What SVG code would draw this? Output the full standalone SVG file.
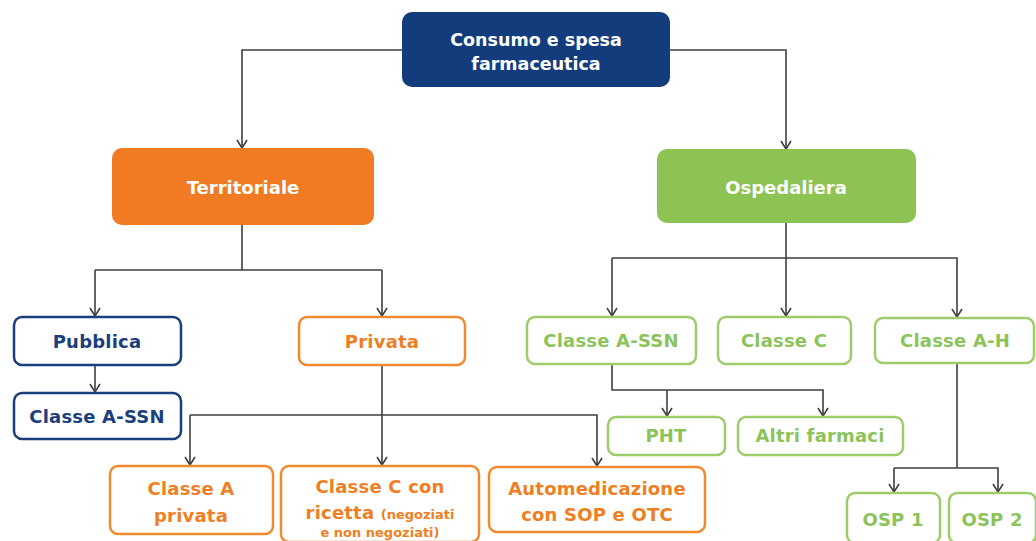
<svg xmlns="http://www.w3.org/2000/svg" width="1036" height="541" viewBox="0 0 1036 541">
<style>
.lbl{font-family:"DejaVu Sans",Verdana,sans-serif;font-weight:bold;font-size:18px;text-anchor:middle;letter-spacing:0.2px}
.sm{font-size:13px;letter-spacing:0}
.top{font-family:"DejaVu Sans",Verdana,sans-serif;font-weight:bold;font-size:17.5px;text-anchor:middle;fill:#fff}
.navyB{fill:#fff;stroke:#1b3f7c;stroke-width:2.5}
.orB{fill:#fff;stroke:#f08a2e;stroke-width:2.5}
.grB{fill:#fff;stroke:#9ccd6a;stroke-width:2.5}
.tn{fill:#1b3f7c}.to{fill:#ef7f22}.tg{fill:#8cc35a}
.c{fill:none;stroke:#3f3f3f;stroke-width:1.6}
</style>
<defs>
<marker id="ar" markerWidth="12" markerHeight="12" refX="10" refY="6" orient="auto" markerUnits="userSpaceOnUse" viewBox="0 0 12 12">
<path d="M2,1 L10,6 L2,11" fill="none" stroke="#3f3f3f" stroke-width="1.6"/>
</marker>
</defs>
<rect width="1036" height="541" fill="#fff"/>
<g id="connectors">
<path class="c" d="M402,50 H242 V148" marker-end="url(#ar)"/>
<path class="c" d="M670,50 H786 V149" marker-end="url(#ar)"/>
<path class="c" d="M242,225 V270"/>
<path class="c" d="M95,270 H382"/>
<path class="c" d="M95,270 V316" marker-end="url(#ar)"/>
<path class="c" d="M382,270 V316" marker-end="url(#ar)"/>
<path class="c" d="M95,365 V392" marker-end="url(#ar)"/>
<path class="c" d="M382,365 V465" marker-end="url(#ar)"/>
<path class="c" d="M190,415 H597 V466" marker-end="url(#ar)"/>
<path class="c" d="M190,415 V465" marker-end="url(#ar)"/>
<path class="c" d="M786,223 V316" marker-end="url(#ar)"/>
<path class="c" d="M612,258 H957 V317" marker-end="url(#ar)"/>
<path class="c" d="M612,258 V316" marker-end="url(#ar)"/>
<path class="c" d="M612,364 V390 H823 V416" marker-end="url(#ar)"/>
<path class="c" d="M667,390 V416" marker-end="url(#ar)"/>
<path class="c" d="M957,364 V468"/>
<path class="c" d="M894,468 H998 V492" marker-end="url(#ar)"/>
<path class="c" d="M894,468 V492" marker-end="url(#ar)"/>
</g>
<g id="n-root">
<rect x="402" y="12" width="268" height="75" rx="10" fill="#123c7c"/>
<text class="top" x="536" y="46">Consumo e spesa</text>
<text class="top" x="536" y="70">farmaceutica</text>
</g>
<g id="n-territoriale">
<rect x="112" y="148" width="262" height="77" rx="10" fill="#f07b22"/>
<text class="top" x="243" y="194" style="font-size:18px">Territoriale</text>
</g>
<g id="n-ospedaliera">
<rect x="657" y="149" width="259" height="74" rx="10" fill="#8cc352"/>
<text class="top" x="786" y="194" style="font-size:18px">Ospedaliera</text>
</g>
<g id="n-pubblica">
<rect class="navyB" x="14" y="317" width="167" height="48" rx="8"/>
<text class="lbl tn" x="97" y="348">Pubblica</text>
</g>
<g id="n-classeassn-l">
<rect class="navyB" x="14" y="393" width="167" height="46" rx="8"/>
<text class="lbl tn" x="97" y="423">Classe A-SSN</text>
</g>
<g id="n-privata">
<rect class="orB" x="299" y="317" width="166" height="48" rx="8"/>
<text class="lbl to" x="382" y="348">Privata</text>
</g>
<g id="n-classea-priv">
<rect class="orB" x="110" y="466" width="163" height="68" rx="8"/>
<text class="lbl to" x="191" y="495">Classe A</text>
<text class="lbl to" x="191" y="522">privata</text>
</g>
<g id="n-classec-ricetta">
<rect class="orB" x="281" y="466" width="198" height="76" rx="8"/>
<text class="lbl to" x="380" y="493">Classe C con</text>
<text class="lbl to" x="380" y="519">ricetta <tspan class="sm">(negoziati</tspan></text>
<text class="lbl to sm" x="380" y="537">e non negoziati)</text>
</g>
<g id="n-automed">
<rect class="orB" x="489" y="467" width="216" height="65" rx="8"/>
<text class="lbl to" x="597" y="495">Automedicazione</text>
<text class="lbl to" x="597" y="521">con SOP e OTC</text>
</g>
<g id="n-classeassn-r">
<rect class="grB" x="527" y="317" width="169" height="47" rx="8"/>
<text class="lbl tg" x="611" y="347">Classe A-SSN</text>
</g>
<g id="n-classec">
<rect class="grB" x="718" y="317" width="133" height="47" rx="8"/>
<text class="lbl tg" x="784" y="347">Classe C</text>
</g>
<g id="n-classeah">
<rect class="grB" x="875" y="318" width="159" height="45" rx="8"/>
<text class="lbl tg" x="955" y="347">Classe A-H</text>
</g>
<g id="n-pht">
<rect class="grB" x="608" y="417" width="117" height="38" rx="8"/>
<text class="lbl tg" x="666" y="442">PHT</text>
</g>
<g id="n-altri">
<rect class="grB" x="738" y="417" width="165" height="38" rx="8"/>
<text class="lbl tg" x="820" y="442">Altri farmaci</text>
</g>
<g id="n-osp1">
<rect class="grB" x="847" y="493" width="93" height="50" rx="8"/>
<text class="lbl tg" x="893" y="526">OSP 1</text>
</g>
<g id="n-osp2">
<rect class="grB" x="949" y="493" width="87" height="50" rx="8"/>
<text class="lbl tg" x="992" y="526">OSP 2</text>
</g>
</svg>
